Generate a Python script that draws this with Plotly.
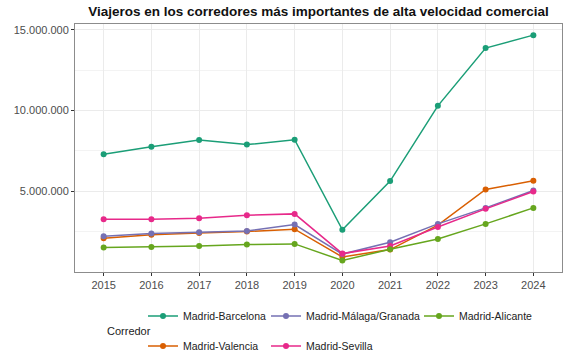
import plotly.graph_objects as go

years = ["2015", "2016", "2017", "2018", "2019", "2020", "2021", "2022", "2023", "2024"]

barcelona = [7.28e6, 7.75e6, 8.17e6, 7.88e6, 8.18e6, 2.60e6, 5.62e6, 10.28e6, 13.86e6, 14.66e6]
malaga = [2.20e6, 2.37e6, 2.45e6, 2.53e6, 2.93e6, 1.10e6, 1.83e6, 2.97e6, 3.96e6, 5.04e6]
alicante = [1.50e6, 1.54e6, 1.60e6, 1.69e6, 1.73e6, 0.70e6, 1.40e6, 2.04e6, 2.97e6, 3.96e6]
valencia = [2.08e6, 2.29e6, 2.41e6, 2.50e6, 2.64e6, 0.92e6, 1.38e6, 2.89e6, 5.10e6, 5.64e6]
sevilla = [3.26e6, 3.26e6, 3.32e6, 3.50e6, 3.59e6, 1.13e6, 1.60e6, 2.78e6, 3.90e6, 4.98e6]

W, H = 567, 358
FONT = "Liberation Sans, Arial, sans-serif"

# name, values, colour, legend id, legend text start (px), legend row centre (px)
series = [
    ("Madrid-Barcelona", barcelona, "#1B9E77", "legend", 183, 316),
    ("Madrid-Valencia", valencia, "#D95F02", "legend2", 183, 346),
    ("Madrid-Málaga/Granada", malaga, "#7570B3", "legend3", 306, 316),
    ("Madrid-Sevilla", sevilla, "#E7298A", "legend4", 306, 346),
    ("Madrid-Alicante", alicante, "#66A61E", "legend5", 459, 316),
]

ytickvals = [5e6, 10e6, 15e6]
yminor = [2.5e6, 7.5e6, 12.5e6]

fig = go.Figure()
legends = {}
for name, vals, color, lg, tx, ty in series:
    fig.add_trace(go.Scatter(
        x=years, y=vals, name=name, mode="lines+markers",
        line=dict(color=color, width=1.5),
        marker=dict(color=color, size=6),
        legend=lg,
    ))
    legends[lg] = dict(
        orientation="h", xref="container", yref="container",
        x=(tx - 40) / W, xanchor="left", y=1 - ty / H, yanchor="middle",
        font=dict(size=10.5, color="#222222"), itemwidth=30,
        bgcolor="rgba(0,0,0,0)", borderwidth=0,
    )

L, R, T, B = 74.5, 5, 24.3, 86.3

fig.update_layout(
    width=W, height=H,
    margin=dict(l=L, r=R, t=T, b=B, pad=0, autoexpand=False),
    paper_bgcolor="white", plot_bgcolor="white",
    separators=",.",
    font=dict(family=FONT, size=11, color="#222222"),
    title=dict(text="<b>Viajeros en los corredores más importantes de alta velocidad comercial</b>",
               x=0.5, xref="paper", xanchor="center",
               y=1 - 11 / H, yref="container", yanchor="middle",
               font=dict(size=13.5, color="#111111")),
    xaxis=dict(
        type="category", range=[-0.6, 9.6],
        showgrid=True, gridcolor="#EBEBEB", gridwidth=1,
        showline=True, linecolor="#8C8C8C", linewidth=1, mirror=True,
        ticks="outside", ticklen=3, tickcolor="#333333", tickwidth=1,
        tickfont=dict(size=11, color="#4D4D4D"),
        zeroline=False, automargin=False,
    ),
    yaxis=dict(
        range=[-0.01e6, 15.35e6],
        tickvals=ytickvals, tickformat=",d",
        showgrid=True, gridcolor="#EBEBEB", gridwidth=1,
        minor=dict(tickvals=yminor, showgrid=True, gridcolor="#F3F3F3", gridwidth=1, ticklen=0),
        showline=True, linecolor="#8C8C8C", linewidth=1, mirror=True,
        ticks="outside", ticklen=3, tickcolor="#333333", tickwidth=1,
        tickfont=dict(size=11, color="#4D4D4D"),
        zeroline=False, automargin=False,
    ),
    showlegend=True,
    **legends,
)

fig.add_annotation(
    text="Corredor", xref="paper", yref="paper",
    x=(105 - L) / (W - L - R), y=(H - B - 331) / (H - T - B),
    xanchor="left", yanchor="middle",
    showarrow=False, font=dict(size=11, color="#222222"),
)

fig.write_html(
    "out.html",
    config={"displayModeBar": False},
    post_script="document.body.style.margin='0px';document.body.style.overflow='hidden';",
)
